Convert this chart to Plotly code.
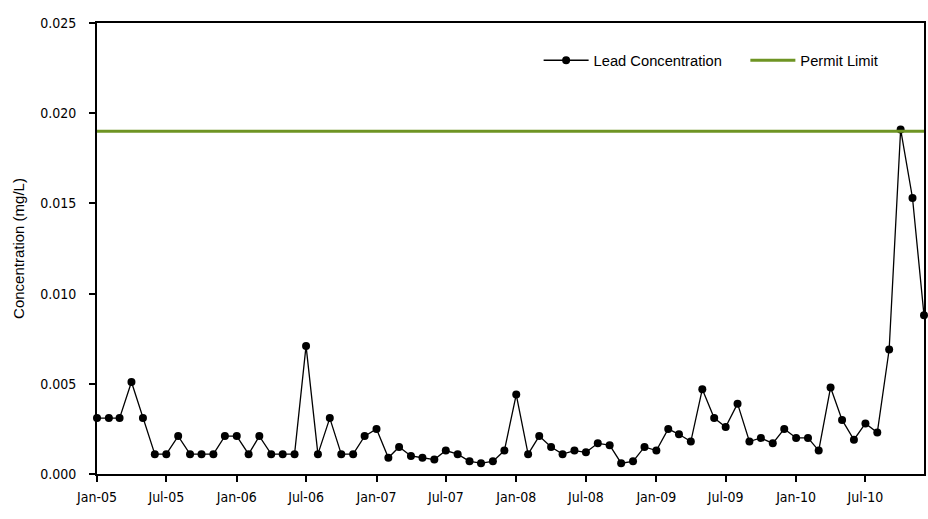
import plotly.graph_objects as go
import pandas as pd

# monthly lead concentration, Jan 2005 - Dec 2010 (mg/L)
months = pd.date_range("2005-01-01", "2010-12-01", freq="MS")
lead_mg_l = [
    0.0031, 0.0031, 0.0031, 0.0051, 0.0031, 0.0011, 0.0011, 0.0021, 0.0011, 0.0011, 0.0011, 0.0021,
    0.0021, 0.0011, 0.0021, 0.0011, 0.0011, 0.0011, 0.0071, 0.0011, 0.0031, 0.0011, 0.0011, 0.0021,
    0.0025, 0.0009, 0.0015, 0.0010, 0.0009, 0.0008, 0.0013, 0.0011, 0.0007, 0.0006, 0.0007, 0.0013,
    0.0044, 0.0011, 0.0021, 0.0015, 0.0011, 0.0013, 0.0012, 0.0017, 0.0016, 0.0006, 0.0007, 0.0015,
    0.0013, 0.0025, 0.0022, 0.0018, 0.0047, 0.0031, 0.0026, 0.0039, 0.0018, 0.0020, 0.0017, 0.0025,
    0.0020, 0.0020, 0.0013, 0.0048, 0.0030, 0.0019, 0.0028, 0.0023, 0.0069, 0.0191, 0.0153, 0.0088,
]
permit_limit = 0.019

y_ticks = [0.000, 0.005, 0.010, 0.015, 0.020, 0.025]

narrow = "DejaVu Sans Condensed, sans-serif"
regular = "Liberation Sans, Arial, sans-serif"

fig = go.Figure()

fig.add_trace(go.Scatter(
    x=months,
    y=lead_mg_l,
    mode='lines+markers',
    line=dict(color='black', width=1.3),
    marker=dict(color='black', size=8),
    name='Lead Concentration',
    cliponaxis=False,
))

fig.add_trace(go.Scatter(
    x=[months[0], months[-1]],
    y=[permit_limit, permit_limit],
    mode='lines',
    line=dict(color='#6e9423', width=3),
    name='Permit Limit',
    legend='legend2',
))

legend_style = dict(
    orientation='h',
    y=0.953,
    xanchor='left',
    yanchor='top',
    itemwidth=45,
    font=dict(family=regular, size=14.7),
    bgcolor='rgba(0,0,0,0)',
)

fig.update_layout(
    width=928,
    height=519,
    showlegend=True,
    paper_bgcolor='white',
    plot_bgcolor='white',
    margin=dict(l=97, r=2, t=23, b=45),
    font=dict(family=regular, size=13, color='black'),
    legend=dict(x=0.534, **legend_style),
    legend2=dict(x=0.784, **legend_style),
)

fig.update_xaxes(
    range=[months[0], months[-1]],
    tickformat='%b-%y',
    dtick='M6',
    tick0=months[0],
    ticks='outside',
    ticklen=6,
    tickwidth=1.5,
    tickcolor='black',
    ticklabelstandoff=3,
    showline=True,
    linecolor='black',
    linewidth=2,
    mirror=True,
    showgrid=False,
    zeroline=False,
    tickfont=dict(family=narrow, size=14),
)

fig.update_yaxes(
    range=[0, 0.025],
    tickvals=y_ticks,
    tickformat='.3f',
    ticks='outside',
    ticklen=6,
    tickwidth=1.5,
    tickcolor='black',
    ticklabelstandoff=10,
    showline=True,
    linecolor='black',
    linewidth=2,
    mirror=True,
    showgrid=False,
    zeroline=False,
    tickfont=dict(family=narrow, size=14),
    title=dict(text='Concentration (mg/L)', font=dict(family=regular, size=15), standoff=12),
)

# the page body has a default 8px margin; drop it so the figure fills the window
fig.write_html("out.html", config={'displayModeBar': False},
               post_script="document.body.style.margin='0';")
